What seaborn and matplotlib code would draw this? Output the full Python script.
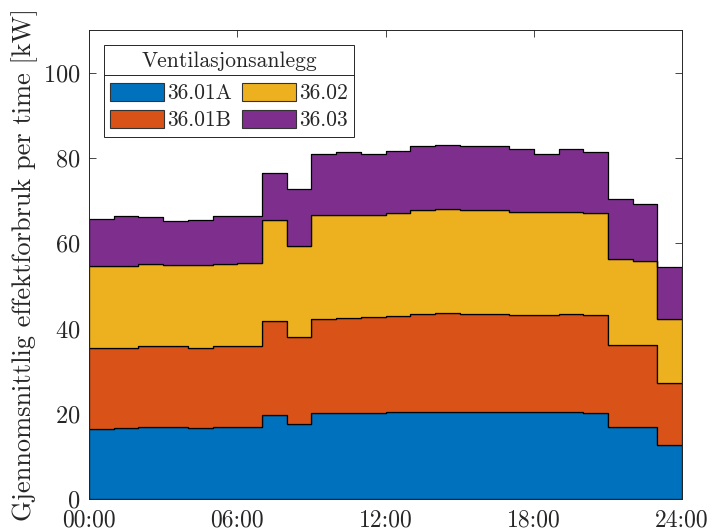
import numpy as np
import pandas as pd
import matplotlib
matplotlib.use("Agg")
import matplotlib.pyplot as plt
import seaborn as sns
from matplotlib.patches import Patch
from matplotlib.lines import Line2D

hours = list(range(24))
v_3601A = [16.3, 16.7, 17.0, 16.9, 16.6, 17.0, 17.0, 19.8, 17.7, 20.1, 20.1, 20.1,
           20.3, 20.5, 20.5, 20.4, 20.5, 20.3, 20.3, 20.4, 20.2, 16.9, 17.0, 12.6]
v_3601B = [19.0, 18.7, 18.8, 18.9, 18.9, 18.8, 18.8, 21.9, 20.3, 22.2, 22.4, 22.6,
           22.6, 22.9, 23.1, 23.0, 22.9, 22.9, 22.9, 22.9, 22.9, 19.2, 19.0, 14.6]
v_3602 = [19.4, 19.2, 19.2, 19.1, 19.3, 19.4, 19.6, 23.7, 21.3, 24.2, 24.2, 24.0,
          24.2, 24.3, 24.3, 24.3, 24.4, 24.0, 24.0, 24.1, 24.0, 20.1, 19.9, 15.0]
v_3603 = [10.9, 11.7, 11.2, 10.4, 10.6, 11.2, 10.9, 11.0, 13.4, 14.5, 14.7, 14.3,
          14.5, 15.1, 15.2, 15.0, 15.1, 14.9, 13.8, 14.7, 14.3, 14.1, 13.3, 12.2]
series_names = ["36.01A", "36.01B", "36.02", "36.03"]
colors = ["#0072BD", "#D95319", "#EDB120", "#7E2F8E"]
xticks = [0, 6, 12, 18, 24]
xtick_labels = ["00:00", "06:00", "12:00", "18:00", "24:00"]
yticks = [0, 20, 40, 60, 80, 100]

sns.set_theme(style="ticks")
plt.rcParams['font.family'] = ['cmr10']
plt.rcParams['mathtext.fontset'] = 'cm'
plt.rcParams['axes.formatter.use_mathtext'] = True
plt.rcParams['axes.unicode_minus'] = False

values = [v_3601A, v_3601B, v_3602, v_3603]
df = pd.DataFrame({
    "hour": hours * 4,
    "kW": sum(values, []),
    "anlegg": sum([[n] * 24 for n in series_names], []),
})

fig = plt.figure(figsize=(7.12, 5.31), dpi=100)
ax = fig.add_axes([0.125, 0.0603, 0.833, 0.8832])
# seaborn stacks the first hue level on top, so pass the order reversed
sns.histplot(data=df, x="hour", weights="kW", hue="anlegg",
             hue_order=series_names[::-1], palette=colors[::-1],
             multiple="stack", element="step", bins=24,
             binrange=(0, 24), alpha=1, edgecolor="black", linewidth=0.9,
             ax=ax, legend=False)

ax.set_xlim(0, 24)
ax.set_ylim(0, 110)
ax.set_xticks(xticks)
ax.set_xticklabels(xtick_labels)
ax.set_yticks(yticks)
ax.set_xlabel("")
ax.set_ylabel("Gjennomsnittlig effektforbruk per time [kW]", fontsize=19, labelpad=4)
ax.tick_params(direction="in", top=True, right=True, length=5, width=0.6,
               labelsize=17.5, color="#262626")
ax.tick_params(axis="x", pad=7.5, labelsize=17)
ax.tick_params(axis="y", pad=6)
for s in ax.spines.values():
    s.set_visible(True)
    s.set_color("#262626")
    s.set_linewidth(0.7)

handles = [Patch(facecolor=c, edgecolor="#333333", linewidth=0.8) for c in colors]
leg = ax.legend(handles, series_names, title="Ventilasjonsanlegg", ncol=2,
                loc="upper left", bbox_to_anchor=(0.025, 0.969), borderaxespad=0,
                fontsize=15.5, title_fontsize=15.5, handlelength=2.5,
                handleheight=0.9, handletextpad=0.15, columnspacing=0.45,
                labelspacing=0.3, borderpad=0.3, frameon=True, fancybox=False,
                edgecolor="#262626", framealpha=1)
leg.get_frame().set_linewidth(0.7)
leg._legend_box.sep = 9

fig.canvas.draw()
r = fig.canvas.get_renderer()
lb = leg.get_window_extent(r).transformed(fig.transFigure.inverted())
tb = leg.get_title().get_window_extent(r).transformed(fig.transFigure.inverted())
ysep = tb.y0 - 0.008
fig.add_artist(Line2D([lb.x0, lb.x1], [ysep, ysep], color="#262626",
                      linewidth=0.7, transform=fig.transFigure))

fig.savefig("out.png", dpi=100)
